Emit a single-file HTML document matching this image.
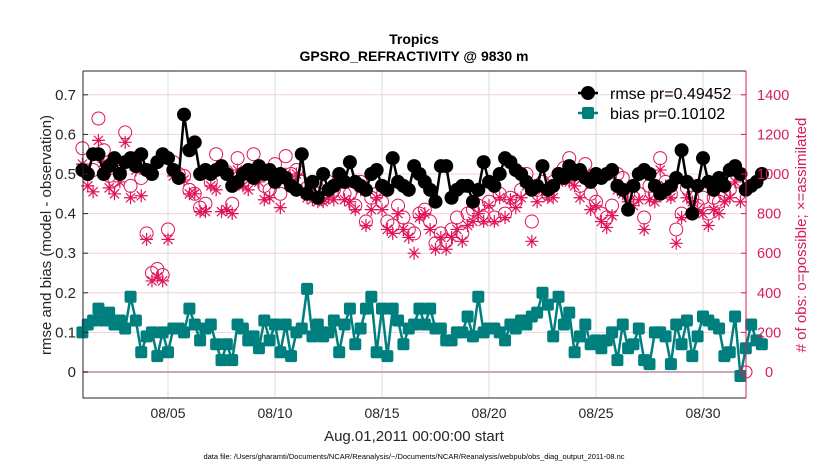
<!DOCTYPE html>
<html><head><meta charset="utf-8"><style>
body{margin:0;background:#fff;font-family:"Liberation Sans",sans-serif}
svg text{font-family:"Liberation Sans",sans-serif}
</style></head><body>
<svg id="chart" width="830" height="470" xmlns="http://www.w3.org/2000/svg">
<rect x="0" y="0" width="830" height="470" fill="#fff"/>
<g id="grid"></g><g id="series"></g><g id="axes"></g>
<text x="414" y="44" text-anchor="middle" font-size="14" font-weight="bold">Tropics</text>
<text x="414" y="61" text-anchor="middle" font-size="14" font-weight="bold">GPSRO_REFRACTIVITY @ 9830 m</text>
<text transform="translate(51,235) rotate(-90)" text-anchor="middle" font-size="15" fill="#262626">rmse and bias (model - observation)</text>
<text transform="translate(806,235) rotate(-90)" text-anchor="middle" font-size="15" fill="#d81b5c"># of obs: o=possible; ×=assimilated</text>
<text x="414" y="441" text-anchor="middle" font-size="15" fill="#262626">Aug.01,2011 00:00:00 start</text>
<text x="414" y="459" text-anchor="middle" font-size="7.5" fill="#000">data file: /Users/gharamti/Documents/NCAR/Reanalysis/~/Documents/NCAR/Reanalysis/webpub/obs_diag_output_2011-08.nc</text>
<g>
<line x1="578" y1="93" x2="598" y2="93" stroke="#000" stroke-width="2.5"/><circle cx="588" cy="93" r="7" fill="#000"/>
<text x="610" y="99" font-size="16">rmse pr=0.49452</text>
<line x1="578" y1="113" x2="598" y2="113" stroke="#007f7f" stroke-width="2.5"/><rect x="582" y="107" width="12" height="12" rx="2" fill="#007f7f"/>
<text x="610" y="119" font-size="16">bias pr=0.10102</text>
</g>
</svg>
<script>
const rmse=[0.51,0.50,0.55,0.55,0.50,0.52,0.54,0.50,0.53,0.54,0.52,0.55,0.51,0.50,0.53,0.55,
0.54,0.51,0.49,0.65,0.56,0.58,0.50,0.51,0.50,0.51,0.52,0.50,0.47,0.48,0.50,0.51,
0.49,0.52,0.50,0.51,0.48,0.50,0.49,0.47,0.46,0.55,0.45,0.48,0.44,0.50,0.46,0.47,
0.50,0.48,0.53,0.48,0.47,0.46,0.50,0.51,0.47,0.46,0.54,0.48,0.47,0.46,0.52,0.50,
0.48,0.46,0.43,0.52,0.52,0.44,0.46,0.47,0.47,0.43,0.46,0.53,0.48,0.47,0.50,0.54,
0.53,0.51,0.50,0.48,0.46,0.47,0.52,0.46,0.47,0.50,0.49,0.52,0.50,0.51,0.49,0.48,
0.50,0.49,0.50,0.51,0.47,0.46,0.41,0.47,0.50,0.51,0.50,0.47,0.45,0.46,0.47,0.49,
0.56,0.48,0.40,0.47,0.54,0.48,0.46,0.49,0.47,0.51,0.52,0.50,0.46,0.47,0.48,0.50];
const bias=[0.10,0.12,0.13,0.16,0.13,0.15,0.12,0.13,0.11,0.19,0.13,0.05,0.09,0.10,0.04,0.10,
0.05,0.11,0.11,0.10,0.16,0.12,0.08,0.11,0.12,0.07,0.03,0.07,0.03,0.12,0.11,0.08,
0.09,0.06,0.13,0.08,0.12,0.05,0.12,0.04,0.10,0.11,0.21,0.09,0.12,0.09,0.10,0.13,
0.05,0.12,0.16,0.07,0.11,0.16,0.19,0.05,0.16,0.04,0.16,0.13,0.07,0.11,0.12,0.16,
0.12,0.16,0.11,0.11,0.08,0.08,0.10,0.10,0.14,0.09,0.19,0.10,0.11,0.11,0.10,0.08,
0.12,0.11,0.13,0.12,0.14,0.15,0.20,0.17,0.09,0.19,0.12,0.15,0.05,0.09,0.12,0.07,
0.08,0.06,0.08,0.10,0.03,0.12,0.06,0.07,0.11,0.03,0.02,0.10,0.10,0.09,0.02,0.12,
0.07,0.13,0.04,0.09,0.14,0.13,0.12,0.11,0.04,0.05,0.14,-0.01,0.06,0.12,0.08,0.07];
const possible=[1130,1000,1020,1280,1120,990,970,1010,1210,940,1080,980,700,500,520,490,
720,1060,1000,990,920,900,830,850,960,1100,1030,1010,850,1080,960,1000,
1100,1000,940,920,1050,900,1090,1000,1020,960,930,920,900,880,960,920,
980,900,900,840,960,760,880,900,860,760,740,840,780,720,700,800,
820,760,650,700,660,720,780,700,800,820,840,780,860,780,900,800,
880,860,920,1000,760,920,960,900,960,1000,1030,1080,1000,940,1050,900,
860,800,780,840,1000,980,900,880,900,780,940,900,1080,960,900,720,
800,930,880,840,880,800,880,860,900,920,1020,960];
const assimilated=[1050,940,910,1170,1060,930,900,960,1160,880,1020,890,670,460,480,460,
670,990,980,970,900,900,810,810,940,920,810,820,800,1020,940,920,
990,960,870,880,950,830,1000,960,1000,920,880,870,860,860,880,870,
950,870,860,820,920,740,820,880,820,720,700,800,720,680,600,780,
800,720,620,680,620,680,720,660,740,760,800,760,840,760,880,780,
870,830,880,940,660,860,920,880,880,960,1000,960,940,880,1000,820,
840,760,730,790,920,900,860,840,870,720,870,860,1020,940,880,650,
780,880,860,820,800,740,820,800,860,880,960,860];
const labelsX=["08/05","08/10","08/15","08/20","08/25","08/30"];
const ticksXdays=[4,9,14,19,24,29];
const ticksY=[0,0.1,0.2,0.3,0.4,0.5,0.6,0.7];
const ticksR=[0,200,400,600,800,1000,1200,1400];

const NS="http://www.w3.org/2000/svg";
const L=83,R=746,T=71,B=398;
const x=d=>82.4+d*21.4;
const y=v=>372-v*396;
const yr=n=>372-n*0.198;
function mk(tag,attrs,parent){const e=document.createElementNS(NS,tag);for(const k in attrs)e.setAttribute(k,attrs[k]);parent.appendChild(e);return e;}
const grid=document.getElementById('grid'),ser=document.getElementById('series'),ax=document.getElementById('axes');
ticksY.forEach(v=>{if(v>0){const g=mk('line',{x1:L,x2:R,y1:y(v),y2:y(v),stroke:'#f3cfe0','stroke-width':1},grid);

}});
ticksXdays.forEach((d,i)=>{const g=mk('line',{x1:x(d),x2:x(d),y1:T,y2:B,stroke:'#dcdcdc','stroke-width':1},grid);


const t=mk('text',{x:x(d),y:B+20,'text-anchor':'middle','font-size':14,fill:'#262626'},ax);t.textContent=labelsX[i];

});
const zl=mk('line',{x1:L,x2:R,y1:y(0),y2:y(0),stroke:'#c9aab4','stroke-width':2},grid);


possible.forEach((n,i)=>{const c=mk('circle',{cx:x(i*0.25),cy:yr(n),r:6.5,fill:'none',stroke:'#e0145a','stroke-width':1},ser);

});
assimilated.forEach((n,i)=>{const cx=x(i*0.25),cy=yr(n);let p='';for(let a=0;a<4;a++){const an=a*Math.PI/4;p+=`M${cx-6.5*Math.cos(an)},${cy-6.5*Math.sin(an)}L${cx+6.5*Math.cos(an)},${cy+6.5*Math.sin(an)}`;}
const s=mk('path',{d:p,stroke:'#e0145a','stroke-width':1.2},ser);

});
const rl=mk('polyline',{points:rmse.map((v,i)=>x(i*0.25)+','+y(v)).join(' '),fill:'none',stroke:'#000','stroke-width':2.5},ser);


rmse.forEach((v,i)=>{const c=mk('circle',{cx:x(i*0.25),cy:y(v),r:7,fill:'#000'},ser);

});
const bl=mk('polyline',{points:bias.map((v,i)=>x(i*0.25)+','+y(v)).join(' '),fill:'none',stroke:'#007f7f','stroke-width':2.5},ser);


bias.forEach((v,i)=>{const c=mk('rect',{x:x(i*0.25)-6,y:y(v)-6,width:12,height:12,rx:2,fill:'#007f7f'},ser);

});
const em=mk('circle',{cx:R,cy:y(0),r:6,fill:'none',stroke:'#e0145a','stroke-width':1},ser);


const frame=mk('path',{d:`M${L},${T}L${R},${T}M${L},${T}L${L},${B}L${R},${B}`,stroke:'#262626','stroke-width':1,fill:'none'},ax);


const ra=mk('line',{x1:R,x2:R,y1:T,y2:B,stroke:'#d81b5c','stroke-width':1},ax);


ticksY.forEach(v=>{mk('line',{x1:L,x2:L+5,y1:y(v),y2:y(v),stroke:'#262626'},ax);
const t=mk('text',{x:L-7,y:y(v)+5,'text-anchor':'end','font-size':15,fill:'#262626'},ax);t.textContent=String(v);

});
ticksR.forEach(n=>{mk('line',{x1:R-5,x2:R,y1:yr(n),y2:yr(n),stroke:'#d81b5c'},ax);
const t=mk('text',{x:n===0?R+19:R+11,y:yr(n)+5,'text-anchor':'start','font-size':14.5,fill:'#d81b5c'},ax);t.textContent=String(n);

});
</script>
</body></html>
